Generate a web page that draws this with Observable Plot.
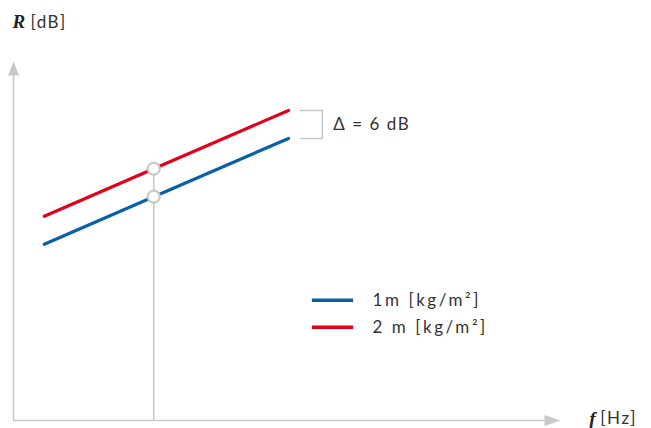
<!DOCTYPE html>
<html>
<head>
<meta charset="utf-8">
<script src="https://cdn.jsdelivr.net/npm/d3@7"></script>
<script src="https://cdn.jsdelivr.net/npm/@observablehq/plot@0.6"></script>
<style>
  html, body { margin: 0; padding: 0; background: #fff; }
  #chart svg text { letter-spacing: 0.09em; }
  #chart svg .serif text { letter-spacing: 0; }
  #chart svg .legend text { letter-spacing: 0.15em; }
</style>
</head>
<body>
<div id="chart"></div>
<script>
// Mass law: sound reduction index R rises with frequency; doubling the mass adds 6 dB.
const freq = [0.62, 2.82, 5.53];          // frequency (arbitrary schematic units)
const rMass1 = [37.8, 48.0, 60.5];        // R [dB] for 1m [kg/m²]
const rMass2 = [43.8, 54.0, 66.5];        // R [dB] for 2m [kg/m²]
const seriesNames = ["1m [kg/m²]", "2 m [kg/m²]"];
const seriesColors = ["#0a5fab", "#e2001a"];
const markIndex = 1;                      // frequency where both curves are compared
const deltaLabel = "Δ = 6 dB";

const axisGray = "#c9c9c9";
const textColor = "#333";
const xMax = 11, yMax = 77;

const curves = [
  ...freq.map((f, i) => ({f, R: rMass1[i], s: seriesNames[0]})),
  ...freq.map((f, i) => ({f, R: rMass2[i], s: seriesNames[1]}))
];
const markers = [
  {f: freq[markIndex], R: rMass1[markIndex]},
  {f: freq[markIndex], R: rMass2[markIndex]}
];
const last = freq.length - 1;

// bracket showing the 6 dB offset, just right of the line ends
const bx0 = 5.77, bx1 = 6.21;
const bracket = [
  {f: bx0, R: rMass2[last]}, {f: bx1, R: rMass2[last]},
  {f: bx1, R: rMass1[last]}, {f: bx0, R: rMass1[last]}
];

// legend rows
const legendY = [25.8, 20.0];
const legend = seriesNames.map((s, i) => ({s, y: legendY[i]}));

// filled arrow heads for the axes
const arrowUp = {draw(ctx) { ctx.moveTo(0, 0); ctx.lineTo(-5.5, 14); ctx.lineTo(5.5, 14); ctx.closePath(); }};
const arrowRight = {draw(ctx) { ctx.moveTo(0, 0); ctx.lineTo(-16, -5.5); ctx.lineTo(-16, 5.5); ctx.closePath(); }};

const serifItalic = {fontFamily: "'Liberation Serif', serif", fontStyle: "italic", fontWeight: "bold", fill: "#222", fontSize: 19, className: "serif"};

const chart = Plot.plot({
  width: 651,
  height: 428,
  marginLeft: 13,
  marginRight: 91,
  marginTop: 61,
  marginBottom: 8,
  style: {fontFamily: "Lato, 'Open Sans', sans-serif", fontSize: "17px", color: textColor, background: "#fff"},
  x: {domain: [0, xMax], axis: null},
  y: {domain: [0, yMax], axis: null},
  color: {domain: seriesNames, range: seriesColors},
  marks: [
    // axes
    Plot.ruleX([0], {y1: 0, y2: yMax - 2, stroke: axisGray, strokeWidth: 1.6}),
    Plot.ruleY([0], {x1: 0, x2: xMax - 0.2, stroke: axisGray, strokeWidth: 1.6}),
    Plot.dot([{f: 0, R: yMax}], {x: "f", y: "R", symbol: arrowUp, fill: axisGray, stroke: null}),
    Plot.dot([{f: xMax, R: 0}], {x: "f", y: "R", symbol: arrowRight, fill: axisGray, stroke: null}),
    // comparison frequency
    Plot.ruleX([freq[markIndex]], {y1: 0, y2: rMass2[markIndex], stroke: axisGray, strokeWidth: 1.6}),
    // curves
    Plot.line(curves, {x: "f", y: "R", z: "s", stroke: "s", strokeWidth: 3.2}),
    Plot.dot(markers, {x: "f", y: "R", r: 6, fill: "#fff", stroke: axisGray, strokeWidth: 2.3}),
    // 6 dB bracket
    Plot.line(bracket, {x: "f", y: "R", stroke: axisGray, strokeWidth: 1.6}),
    Plot.text([deltaLabel], {x: 6.43, y: (rMass1[last] + rMass2[last]) / 2, text: d => d, textAnchor: "start", fill: textColor, fontSize: 17}),
    // legend
    Plot.ruleY(legend, {y: "y", x1: 6.01, x2: 6.84, stroke: "s", strokeWidth: 3.5}),
    Plot.text(legend, {x: 7.22, y: "y", text: "s", textAnchor: "start", fill: textColor, fontSize: 17, className: "legend"}),
    // axis titles
    Plot.text(["R"], {x: 0, y: 85.4, text: d => d, textAnchor: "start", dx: -1, ...serifItalic}),
    Plot.text(["[dB]"], {x: 0, y: 85.4, text: d => d, textAnchor: "start", fill: textColor, fontSize: 17, dx: 17}),
    Plot.text(["f"], {x: 11.58, y: 0, text: d => d, textAnchor: "start", dy: -2, ...serifItalic}),
    Plot.text(["[Hz]"], {x: 11.58, y: 0, text: d => d, textAnchor: "start", fill: textColor, fontSize: 17, dx: 11, dy: -2})
  ]
});
document.getElementById("chart").appendChild(chart);
</script>
</body>
</html>
